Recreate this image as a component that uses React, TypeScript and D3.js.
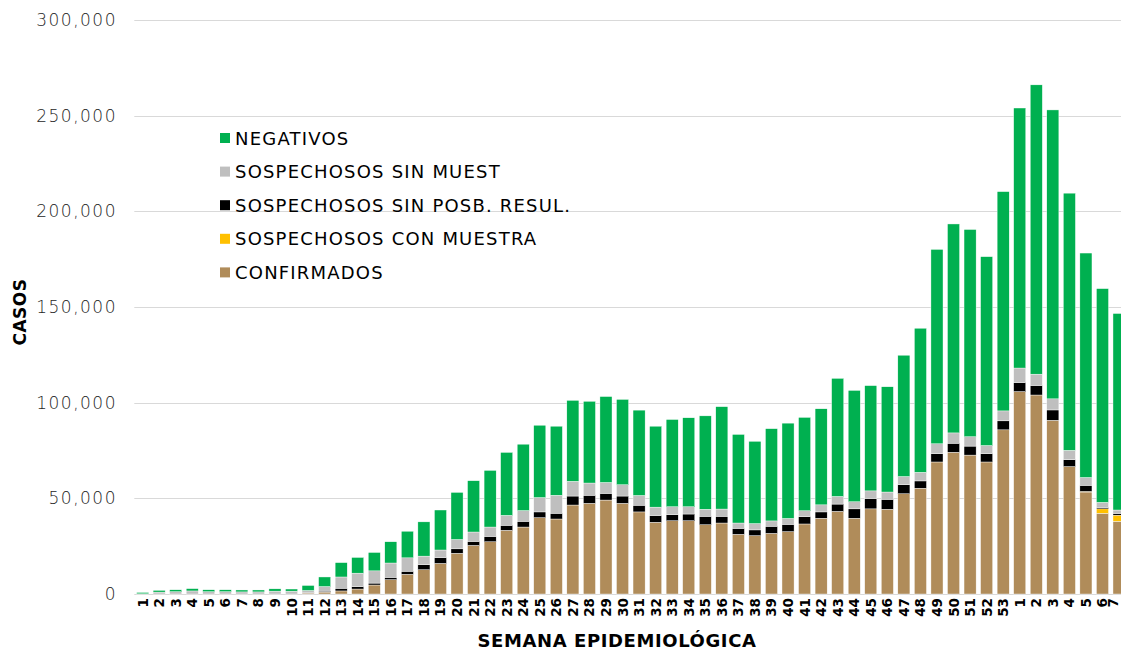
import * as d3 from "d3"

// epidemiological weeks 2020 (1-53) and 2021 (1-7)
const weekLabels = [
  "1", "2", "3", "4", "5", "6", "7", "8", "9", "10",
  "11", "12", "13", "14", "15", "16", "17", "18", "19", "20",
  "21", "22", "23", "24", "25", "26", "27", "28", "29", "30",
  "31", "32", "33", "34", "35", "36", "37", "38", "39", "40",
  "41", "42", "43", "44", "45", "46", "47", "48", "49", "50",
  "51", "52", "53", "1", "2", "3", "4", "5", "6", "7",
]

const confirmados = [
  0, 0, 0, 0, 0, 0, 0, 0, 0, 0,
  500, 1000, 1600, 2600, 4700, 7500, 10300, 12700, 16000, 21300,
  25400, 27300, 33300, 35000, 39900, 39200, 46500, 47400, 49100, 47400,
  42900, 37500, 38300, 38300, 36200, 37100, 31200, 30500, 31700, 32600,
  36600, 39600, 43200, 39600, 44500, 44300, 52400, 55300, 69000, 74100,
  72600, 69000, 85800, 105800, 104000, 90800, 66500, 53300, 42200, 38000,
]

const conMuestra = [
  0, 0, 0, 0, 0, 0, 0, 0, 0, 0,
  0, 0, 0, 0, 0, 0, 0, 0, 0, 0,
  0, 0, 0, 0, 0, 0, 0, 0, 0, 0,
  0, 0, 0, 0, 0, 0, 0, 0, 0, 0,
  0, 0, 0, 0, 0, 0, 0, 0, 0, 0,
  0, 0, 0, 0, 0, 0, 100, 300, 2300, 3200,
]

const sinPosbResul = [
  0, 0, 0, 0, 0, 0, 0, 0, 0, 0,
  350, 500, 1400, 1200, 1000, 1200, 1600, 2600, 3000, 2300,
  2100, 2800, 2600, 3000, 3000, 3000, 4700, 4200, 3500, 3800,
  3500, 3500, 3100, 3500, 4400, 3500, 3100, 3000, 3700, 3800,
  3800, 3300, 3800, 4900, 5400, 5200, 4700, 3800, 4300, 4700,
  4700, 4300, 4700, 4700, 5000, 5400, 3600, 3200, 700, 900,
]

const sinMuest = [
  100, 1000, 1200, 1600, 1200, 1200, 1100, 1100, 1500, 1500,
  1000, 2400, 5900, 7100, 6400, 7500, 7000, 4500, 4000, 4900,
  4900, 4900, 5200, 5600, 7500, 9400, 7700, 6400, 5700, 5900,
  5100, 4400, 4200, 3800, 3700, 3800, 2800, 3300, 2800, 3100,
  3100, 3700, 4000, 3700, 4000, 3800, 4300, 4500, 5200, 5400,
  4900, 4300, 5200, 7600, 5900, 5800, 4900, 4100, 2700, 1800,
]

const negativos = [
  700, 900, 1000, 1200, 1000, 1000, 1000, 1000, 1200, 1100,
  2600, 5000, 7500, 8200, 9600, 11100, 13900, 17900, 20900, 24600,
  26800, 29600, 32900, 34700, 37800, 36100, 42300, 42700, 44900, 44600,
  44600, 42300, 45600, 46500, 48800, 53500, 46300, 43000, 48200, 49800,
  48800, 50200, 61700, 58200, 55000, 55000, 63400, 75300, 101600, 109200,
  108300, 98700, 114600, 135900, 151200, 151000, 134400, 117300, 111700, 102700,
]

const seriesKeys = ["confirmados", "conMuestra", "sinPosbResul", "sinMuest", "negativos"]
const seriesNames = [
  "CONFIRMADOS",
  "SOSPECHOSOS CON MUESTRA",
  "SOSPECHOSOS SIN POSB. RESUL.",
  "SOSPECHOSOS SIN MUEST",
  "NEGATIVOS",
]
const seriesColors = ["#B08C5A", "#FFC000", "#000000", "#BFBFBF", "#00B050"]

const yTicks = [0, 50000, 100000, 150000, 200000, 250000, 300000]

const W = 1121
const H = 652
const FONT = "'DejaVu Sans', sans-serif"

export default function App() {
  const rows = weekLabels.map((_, i) => ({
    idx: String(i),
    confirmados: confirmados[i],
    conMuestra: conMuestra[i],
    sinPosbResul: sinPosbResul[i],
    sinMuest: sinMuest[i],
    negativos: negativos[i],
  }))

  const stacked = d3.stack<any>().keys(seriesKeys)(rows)

  const step = 16.55
  const x0 = 134.3
  const x = d3
    .scaleBand<string>()
    .domain(rows.map((d) => d.idx))
    .range([x0, x0 + step * rows.length])
    .paddingInner(0.27)
    .paddingOuter(0.135)

  const y = d3.scaleLinear().domain([0, 300000]).range([594, 20])
  const fmt = d3.format(",")

  // legend drawn top to bottom in reverse stacking order
  const legendOrder = [4, 3, 2, 1, 0]

  return (
    <svg
      width={W}
      height={H}
      style={{ position: "absolute", left: 0, top: 0, background: "#fff" }}
    >
      {/* gridlines */}
      {yTicks.map((t) => (
        <line
          key={t}
          x1={x0}
          x2={W}
          y1={Math.round(y(t)) + 0.5}
          y2={Math.round(y(t)) + 0.5}
          stroke="#d9d9d9"
          strokeWidth={1}
        />
      ))}

      {/* y tick labels */}
      {yTicks.map((t) => (
        <text
          key={"yl" + t}
          x={117}
          y={y(t)}
          textAnchor="end"
          dominantBaseline="central"
          fontFamily={FONT}
          fontSize={17}
          fontWeight={300}
          letterSpacing={1.5}
          fill="#262626"
        >
          {fmt(t)}
        </text>
      ))}

      {/* stacked bars */}
      {stacked.map((layer, li) => (
        <g key={layer.key} fill={seriesColors[li]}>
          {layer.map((d, i) => {
            const h = y(d[0]) - y(d[1])
            if (h <= 0) return null
            return (
              <rect
                key={i}
                x={x(rows[i].idx)}
                y={y(d[1])}
                width={x.bandwidth()}
                height={h}
                stroke="#ffffff"
                strokeWidth={0.4}
              />
            )
          })}
        </g>
      ))}

      {/* x tick labels (last one nudged so it stays inside the frame) */}
      {weekLabels.map((lab, i) => {
        const cx = Math.min((x(rows[i].idx) || 0) + x.bandwidth() / 2, W - 8)
        return (
          <text
            key={"xl" + i}
            transform={`translate(${cx},598) rotate(-90)`}
            textAnchor="end"
            dominantBaseline="central"
            fontFamily={FONT}
            fontSize={13.5}
            fontWeight="bold"
            fill="#000"
          >
            {lab}
          </text>
        )
      })}

      {/* axis titles */}
      <text
        transform="translate(20,312) rotate(-90)"
        textAnchor="middle"
        dominantBaseline="central"
        fontFamily={FONT}
        fontSize={17}
        fontWeight="bold"
        letterSpacing={0.5}
        fill="#000"
      >
        CASOS
      </text>
      <text
        x={617}
        y={640}
        textAnchor="middle"
        dominantBaseline="central"
        fontFamily={FONT}
        fontSize={18}
        fontWeight="bold"
        letterSpacing={0.6}
        fill="#000"
      >
        SEMANA EPIDEMIOLÓGICA
      </text>

      {/* legend */}
      {legendOrder.map((si, k) => {
        const cy = 138 + k * 33.6
        return (
          <g key={"lg" + si}>
            <rect x={220} y={cy - 5} width={10} height={10} fill={seriesColors[si]} />
            <text
              x={235}
              y={cy}
              dominantBaseline="central"
              fontFamily={FONT}
              fontSize={18}
              letterSpacing={1.2}
              fill="#000"
            >
              {seriesNames[si]}
            </text>
          </g>
        )
      })}
    </svg>
  )
}
